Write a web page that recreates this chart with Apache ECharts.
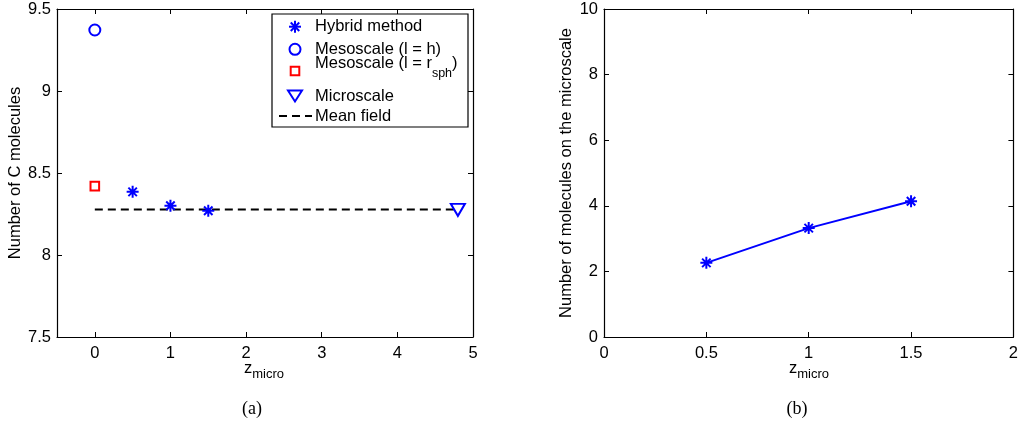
<!DOCTYPE html>
<html>
<head>
<meta charset="utf-8">
<script src="https://cdn.jsdelivr.net/npm/echarts@6/dist/echarts.min.js"></script>
<style>
  html, body { margin: 0; padding: 0; background: #fff; }
  #chart { width: 1021px; height: 425px; }
</style>
</head>
<body>
<div id="chart"></div>
<script>
// (a) number of C molecules vs. z_micro
const hybridZ = [0.5, 1, 1.5];
const hybridC = [8.385, 8.30, 8.27];
const mesoHZ = [0];
const mesoHC = [9.372];
const mesoRsphZ = [0];
const mesoRsphC = [8.42];
const microZ = [4.8];
const microC = [8.275];
const meanFieldZ = [0, 4.8];
const meanFieldC = [8.278, 8.278];

// (b) molecules on the microscale vs. z_micro
const microCountZ = [0.5, 1, 1.5];
const microCount = [2.26, 3.32, 4.14];

const FONT = '"Liberation Sans", Arial, Helvetica, sans-serif';
const BLUE = '#0000ff';
const RED = '#ff0000';
const FS = 16.5;

// asterisk marker: four overlapping bars (+ and x)
const STAR = 'M0,10L24,10L24,14L0,14Z' +
  'M14,0L14,24L10,24L10,0Z' +
  'M4.93,2.1L21.9,19.07L19.07,21.9L2.1,4.93Z' +
  'M21.9,4.93L4.93,21.9L2.1,19.07L19.07,2.1Z';

// the same asterisk as polygons for the legend key
function starPolys(cx, cy, size, color) {
  const L = size / 2, t = size / 12;
  return [0, 45, 90, 135].map(deg => {
    const a = deg * Math.PI / 180, c = Math.cos(a), s = Math.sin(a);
    const pts = [[-L, -t], [L, -t], [L, t], [-L, t]].map(([x, y]) => [cx + x * c - y * s, cy + x * s + y * c]);
    return { type: 'polygon', z: 10, shape: { points: pts }, style: { fill: color } };
  });
}

const zip = (xs, ys) => xs.map((x, i) => [x, ys[i]]);

const axisLine = { show: true, onZero: false, lineStyle: { color: '#000', width: 1.2 } };
const tickIn = { show: true, inside: true, length: 5, lineStyle: { color: '#000', width: 1 } };
const lbl = { color: '#000', fontFamily: FONT, fontSize: FS };

const grids = [
  { left: 57, top: 9, width: 416, height: 328 },
  { left: 604, top: 9, width: 416, height: 328 }
];

function xPair(grid, min, max, extra) {
  return [
    Object.assign({
      type: 'value', gridIndex: grid, position: 'bottom', min, max,
      axisLine, axisTick: tickIn, splitLine: { show: false },
      axisLabel: Object.assign({ margin: 8 }, lbl)
    }, extra),
    Object.assign({
      type: 'value', gridIndex: grid, position: 'top', min, max,
      axisLine, axisTick: tickIn, splitLine: { show: false }
    }, extra, { axisLabel: { show: false } })
  ];
}
function yPair(grid, min, max, interval, name, gap) {
  return [
    {
      type: 'value', gridIndex: grid, position: 'left', min, max, interval,
      axisLine, axisTick: tickIn, splitLine: { show: false },
      axisLabel: Object.assign({ margin: 6 }, lbl),
      name, nameLocation: 'middle', nameRotate: 90, nameGap: gap,
      nameTextStyle: { color: '#000', fontFamily: FONT, fontSize: FS }
    },
    {
      type: 'value', gridIndex: grid, position: 'right', min, max, interval,
      axisLine, axisTick: tickIn, splitLine: { show: false },
      axisLabel: { show: false }
    }
  ];
}

const leftX = xPair(0, -0.5, 5, {
  splitNumber: 6,
  axisLabel: Object.assign({ margin: 8, formatter: v => (Number.isInteger(v) ? String(v) : '') }, lbl)
});
const rightX = xPair(1, 0, 2, { interval: 0.5 });

const xAxes = leftX.concat(rightX);
const yAxes = yPair(0, 7.5, 9.5, 0.5, 'Number of C molecules', 29)
  .concat(yPair(1, 0, 10, 2, 'Number of molecules on the microscale', 29));

function subText(main, sub, tail, x, y, mainSize, subSize, drop, align) {
  return {
    type: 'text', x, y, z: 10,
    style: {
      text: '{m|' + main + '}{s|' + sub + '}' + (tail ? '{m|' + tail + '}' : ''),
      align: align || 'center', verticalAlign: 'middle',
      fill: '#000', fontFamily: FONT,
      rich: {
        m: { fontSize: mainSize, fontFamily: FONT, fill: '#000' },
        s: { fontSize: subSize, fontFamily: FONT, fill: '#000', padding: [drop, 0, 0, 0] }
      }
    }
  };
}

function plainText(text, x, y) {
  return { type: 'text', z: 10, x, y,
    style: { text, fill: '#000', font: FS + 'px ' + FONT, verticalAlign: 'middle' } };
}

// legend box for panel (a)
const LX = 295, TX = 315;
const legend = [
  { type: 'rect', z: 9, shape: { x: 272, y: 14, width: 196, height: 113 },
    style: { fill: '#fff', stroke: '#000', lineWidth: 1.2 } }
].concat(starPolys(LX, 26.7, 12, BLUE), [
  { type: 'circle', z: 10, shape: { cx: LX, cy: 49.3, r: 5.5 },
    style: { fill: 'none', stroke: BLUE, lineWidth: 2 } },
  { type: 'rect', z: 10, shape: { x: LX - 4.3, y: 66.7, width: 8.6, height: 8.6 },
    style: { fill: 'none', stroke: RED, lineWidth: 2 } },
  { type: 'polygon', z: 10, shape: { points: [[LX - 7, 90.5], [LX + 7, 90.5], [LX, 101.5]] },
    style: { fill: 'none', stroke: BLUE, lineWidth: 2 } },
  { type: 'line', z: 10, shape: { x1: 279, y1: 116, x2: 312, y2: 116 },
    style: { stroke: '#000', lineWidth: 2, lineDash: [8, 5] } },
  plainText('Hybrid method', TX, 26.7),
  plainText('Mesoscale (l = h)', TX, 49.3),
  subText('Mesoscale (l = r', 'sph', ')', TX, 63, FS, 12.5, 21, 'left'),
  plainText('Microscale', TX, 96),
  plainText('Mean field', TX, 116)
]);

const hollow = c => ({ color: 'rgba(0,0,0,0)', borderColor: c, borderWidth: 2, opacity: 1 });

const option = {
  animation: false,
  backgroundColor: '#fff',
  grid: grids,
  xAxis: xAxes,
  yAxis: yAxes,
  series: [
    { type: 'line', xAxisIndex: 0, yAxisIndex: 0, data: zip(meanFieldZ, meanFieldC),
      symbol: 'none', lineStyle: { color: '#000', width: 2, type: [8, 5] }, z: 2 },
    { type: 'scatter', xAxisIndex: 0, yAxisIndex: 0, data: zip(hybridZ, hybridC),
      symbol: 'path://' + STAR, symbolSize: 12, itemStyle: { color: BLUE, opacity: 1 }, z: 3 },
    { type: 'scatter', xAxisIndex: 0, yAxisIndex: 0, data: zip(mesoHZ, mesoHC),
      symbol: 'circle', symbolSize: 11, itemStyle: hollow(BLUE), z: 3 },
    { type: 'scatter', xAxisIndex: 0, yAxisIndex: 0, data: zip(mesoRsphZ, mesoRsphC),
      symbol: 'rect', symbolSize: 8.6, itemStyle: hollow(RED), z: 3 },
    { type: 'scatter', xAxisIndex: 0, yAxisIndex: 0, data: zip(microZ, microC),
      symbol: 'triangle', symbolRotate: 180, symbolSize: [14, 12], itemStyle: hollow(BLUE), z: 3 },
    { type: 'line', xAxisIndex: 2, yAxisIndex: 2, data: zip(microCountZ, microCount),
      symbol: 'path://' + STAR, symbolSize: 12, showAllSymbol: true,
      lineStyle: { color: BLUE, width: 2 }, itemStyle: { color: BLUE, opacity: 1 }, z: 3 }
  ],
  graphic: [
    subText('z', 'micro', '', 264, 368, FS, 13, 12),
    subText('z', 'micro', '', 809, 368, FS, 13, 12),
    { type: 'text', x: 252, y: 409, style: { text: '(a)', fill: '#000', font: '18px "Liberation Serif", "DejaVu Serif", serif', align: 'center', verticalAlign: 'middle' } },
    { type: 'text', x: 797, y: 409, style: { text: '(b)', fill: '#000', font: '18px "Liberation Serif", "DejaVu Serif", serif', align: 'center', verticalAlign: 'middle' } }
  ].concat(legend)
};

const chart = echarts.init(document.getElementById('chart'), null, { renderer: 'canvas' });
chart.setOption(option);
</script>
</body>
</html>
